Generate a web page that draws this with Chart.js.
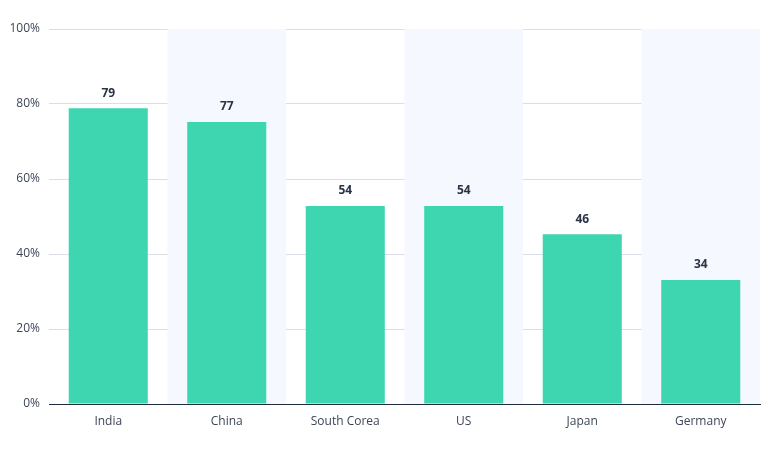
<!DOCTYPE html>
<html>
<head>
<meta charset="utf-8">
<script src="https://cdn.jsdelivr.net/npm/chart.js@4/dist/chart.umd.min.js"></script>
<style>
html,body{margin:0;padding:0;background:#fff;}
#wrap{width:770px;height:450px;position:relative;}
</style>
</head>
<body>
<div id="wrap"><canvas id="c"></canvas></div>
<script>
const categories = ["India", "China", "South Corea", "US", "Japan", "Germany"];
const barValues = [78.9, 75.2, 52.8, 52.8, 45.3, 33.1];
const valueLabels = ["79", "77", "54", "54", "46", "34"];
const yTicks = [0, 20, 40, 60, 80, 100];
const bandedCategories = [1, 3, 5];

const bandPlugin = {
  id: 'bands',
  beforeDatasetsDraw(chart) {
    const {ctx, chartArea, scales:{x}} = chart;
    const w = (chartArea.right - chartArea.left) / categories.length;
    ctx.save();
    ctx.fillStyle = '#f5f8fe';
    bandedCategories.forEach(i => {
      const cx = x.getPixelForValue(i);
      ctx.fillRect(cx - w/2, chartArea.top, w, chartArea.bottom - chartArea.top);
    });
    ctx.restore();
  }
};
const labelPlugin = {
  id: 'vlabels',
  afterDatasetsDraw(chart) {
    const {ctx} = chart;
    const meta = chart.getDatasetMeta(0);
    ctx.save();
    ctx.font = 'bold 12px "Open Sans"';
    ctx.fillStyle = '#2a3445';
    ctx.textAlign = 'center';
    ctx.textBaseline = 'middle';
    meta.data.forEach((bar, i) => {
      ctx.fillText(valueLabels[i], bar.x, bar.y - 15);
    });
    ctx.restore();
  }
};

new Chart(document.getElementById('c'), {
  type: 'bar',
  data: {
    labels: categories,
    datasets: [{
      data: barValues,
      backgroundColor: '#3dd6b0',
      barPercentage: 1,
      categoryPercentage: 0.667
    }]
  },
  options: {
    responsive: true,
    maintainAspectRatio: false,
    animation: false,
    layout: {padding: {top: 29, right: 10, left: 0, bottom: 0}},
    plugins: {legend: {display: false}, tooltip: {enabled: false}},
    scales: {
      x: {
        grid: {display: false, drawTicks: false},
        border: {display: true, color: '#1f2d3d', width: 1},
        ticks: {font: {family: 'Open Sans', size: 12}, color: '#3d4657', padding: 10},
        afterFit(s) { s.height = 46; }
      },
      y: {
        min: 0, max: 100,
        afterBuildTicks(s) { s.ticks = yTicks.map(v => ({value: v})); },
        grid: {color: '#d9dee7', drawTicks: false},
        border: {display: false},
        ticks: {
          font: {family: 'Open Sans', size: 12}, color: '#3d4657', padding: 9,
          callback: v => v + '%'
        },
        afterFit(s) { s.width = 49; }
      }
    }
  },
  plugins: [bandPlugin, labelPlugin]
});
</script>
</body>
</html>
